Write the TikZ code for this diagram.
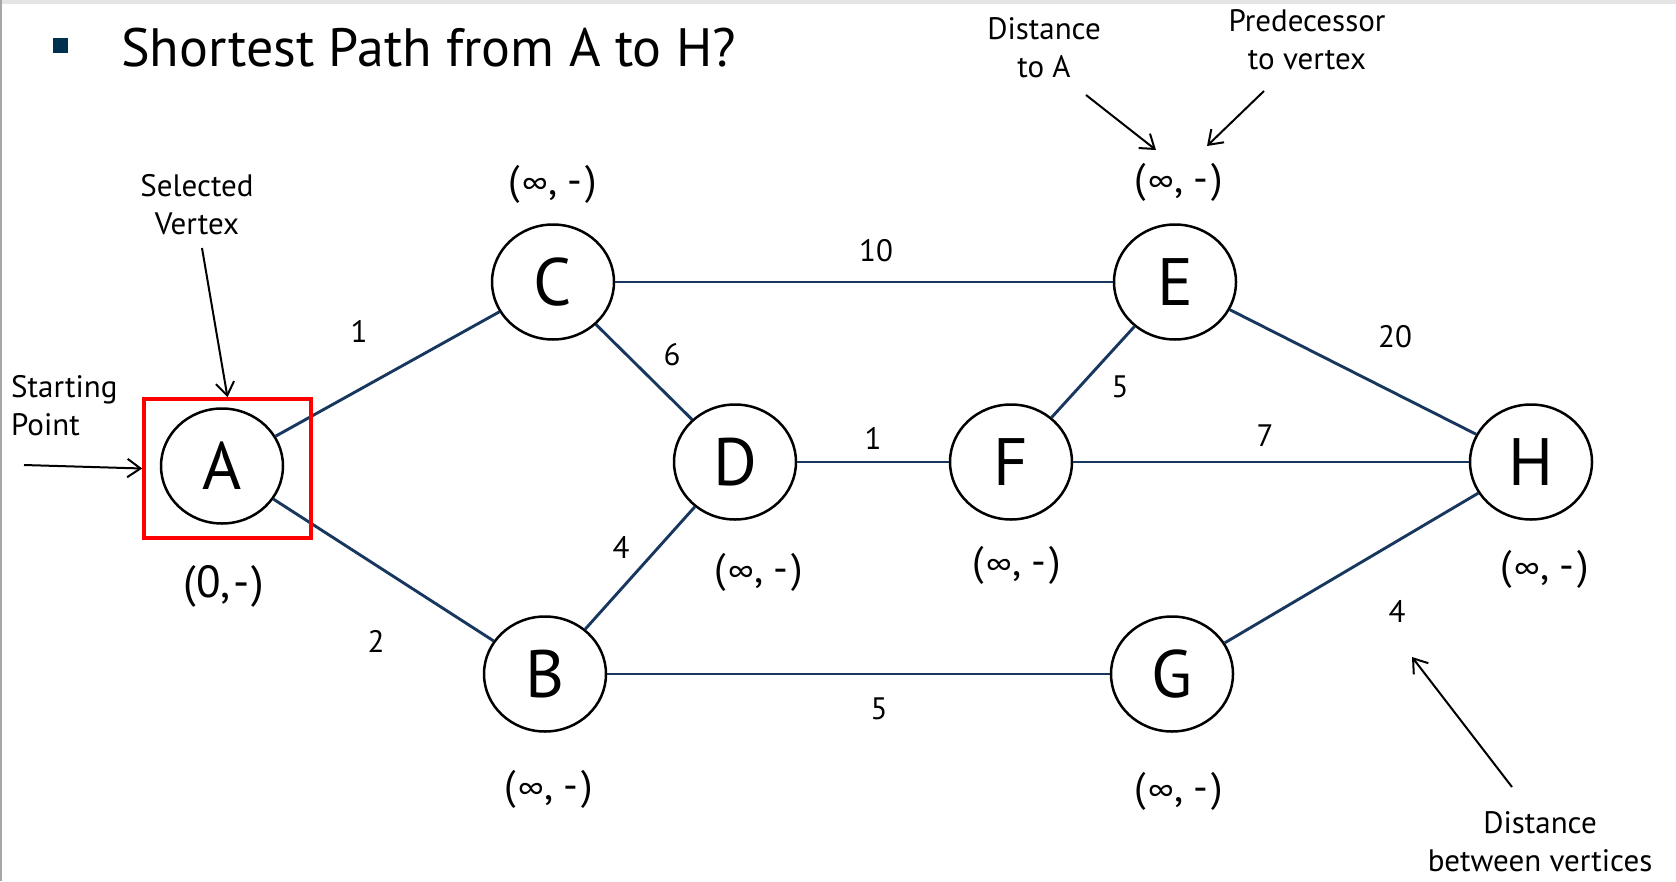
\documentclass[tikz,border=0pt]{standalone}
\usepackage{fontspec}
\setmainfont{PT Sans}
\usepackage{xcolor}
\definecolor{edgeblue}{HTML}{17375E}
\definecolor{bulletblue}{HTML}{00304F}
\definecolor{framegray}{HTML}{E4E4E4}
\usetikzlibrary{arrows.meta, shapes.geometric}
\newcommand{\infdash}{(\kern2pt{\fontsize{30}{30}\selectfont ∞}\kern1pt,\kern9pt-\kern4pt)}
\tikzset{
    vertex/.style={
        ellipse, draw, line width=2.5pt,
        inner sep=0pt,
        minimum width=122pt, minimum height=115pt,
        font=\fontsize{67}{67}\selectfont
    },
    dist/.style={inner sep=0pt, font=\fontsize{41}{41}\selectfont},
    weight/.style={inner sep=0pt, font=\fontsize{31}{31}\selectfont},
    note/.style={inner sep=0pt, align=center, font=\fontsize{31}{38}\selectfont},
    conn/.style={
        draw=edgeblue, line width=2.9pt
    },
    pointer/.style={
        line width=2pt,
        -{Straight Barb[angle=70:16pt]},
    },
    selbox/.style={draw=red, line width=3.5pt, inner sep=0pt,
        minimum width=167pt, minimum height=139pt},
    bullet/.style={fill=bulletblue, inner sep=0pt, minimum size=15pt},
}

\begin{document}
\begin{tikzpicture}[x=1pt, y=-1pt]
        \useasboundingbox (0,0) rectangle (1676,881);
        \fill[framegray] (0,0) rectangle (1676,4);
        \fill[gray!70] (0,0) rectangle (2,881);

        \node[bullet] (dot) at (60,45) {};
        \node[inner sep=0pt, anchor=base west, font=\fontsize{54}{54}\selectfont] (title) at (121,66) {Shortest Path from A to H?};

        % vertices
        \node[vertex] (A) at (222,466) {A};
        \node[vertex] (C) at (553,282) {C};
        \node[vertex] (B) at (545,674) {B};
        \node[vertex] (D) at (735,462) {D};
        \node[vertex] (E) at (1175,282) {E};
        \node[vertex] (F) at (1011,462) {F};
        \node[vertex] (G) at (1172,674) {G};
        \node[vertex] (H) at (1531,462) {H};

        \foreach \a/\b in {A/C, A/B, C/E, C/D, B/D, D/F, F/E, F/H, E/H, B/G, G/H}
            \draw[conn] (\a) -- (\b);

        % (distance, predecessor)
        \node[dist, font=\fontsize{45}{45}\selectfont] (dA) at (224,586) {(0,\kern3pt-\kern2pt)};
        \node[dist] (dC) at (553,184) {\infdash};
        \node[dist] (dB) at (549,789) {\infdash};
        \node[dist] (dD) at (759,572) {\infdash};
        \node[dist] (dE) at (1179,182) {\infdash};
        \node[dist] (dF) at (1017,565) {\infdash};
        \node[dist] (dG) at (1179,791) {\infdash};
        \node[dist] (dH) at (1545,569) {\infdash};

        % weights
        \node[weight] (wAC) at (359,331) {1};
        \node[weight] (wAB) at (376,641) {2};
        \node[weight] (wCE) at (876,251) {10};
        \node[weight] (wCD) at (672,355) {6};
        \node[weight] (wBD) at (621,547) {4};
        \node[weight] (wDF) at (873,438) {1};
        \node[weight] (wFE) at (1120,387) {5};
        \node[weight] (wFH) at (1265,436) {7};
        \node[weight] (wEH) at (1395,337) {20};
        \node[weight] (wBG) at (879,709) {5};
        \node[weight] (wGH) at (1397,611) {4};

        % annotations
        \node[selbox] (sel) at (227.5,468.5) {};
        \node[note] (selnote) at (197,205) {Selected\\Vertex};
        \node[note, align=left, anchor=west] (startnote) at (11,406) {Starting\\Point};
        \node[note] (distnote) at (1044,48) {Distance\\to A};
        \node[note] (prednote) at (1307,40) {Predecessor\\to vertex};
        \node[note] (wnote) at (1540,842) {Distance\\between vertices};

        \coordinate (selTail) at (202,248);
        \coordinate (startTail) at (24,465);
        \coordinate (distTail) at (1086,95);
        \coordinate (distHead) at (1156,150);
        \coordinate (predTail) at (1264,91);
        \coordinate (predHead) at (1207,146);
        \coordinate (wTail) at (1512,787);
        \coordinate (wHead) at (1412,657);

        \draw[pointer] (selTail) -- (sel.north);
        \draw[pointer] (startTail) -- (sel.west);
        \draw[pointer] (distTail) -- (distHead);
        \draw[pointer] (predTail) -- (predHead);
        \draw[pointer] (wTail) -- (wHead);
\end{tikzpicture}
\end{document}
